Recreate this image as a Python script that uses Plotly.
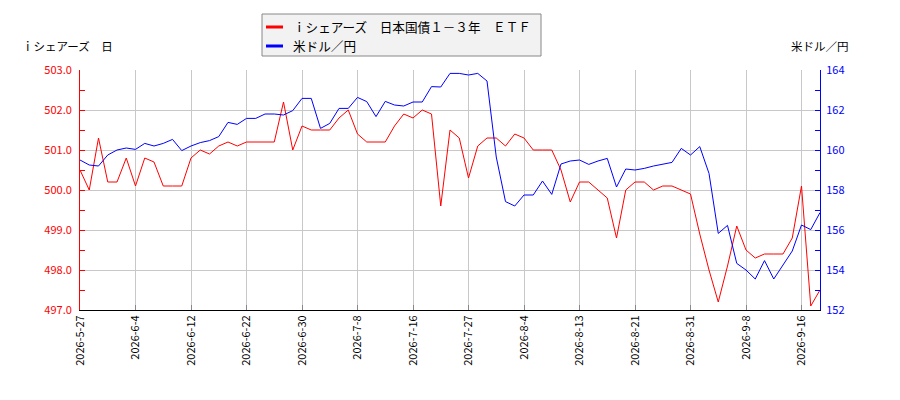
import plotly.graph_objects as go

dates = [
    "2026-5-27", "2026-5-28", "2026-5-29", "2026-6-1", "2026-6-2", "2026-6-3", "2026-6-4",
    "2026-6-5", "2026-6-8", "2026-6-9", "2026-6-10", "2026-6-11", "2026-6-12",
    "2026-6-15", "2026-6-16", "2026-6-17", "2026-6-18", "2026-6-19", "2026-6-22",
    "2026-6-23", "2026-6-24", "2026-6-25", "2026-6-26", "2026-6-29", "2026-6-30",
    "2026-7-1", "2026-7-2", "2026-7-3", "2026-7-6", "2026-7-7", "2026-7-8",
    "2026-7-9", "2026-7-10", "2026-7-13", "2026-7-14", "2026-7-15", "2026-7-16",
    "2026-7-17", "2026-7-21", "2026-7-22", "2026-7-23", "2026-7-24", "2026-7-27",
    "2026-7-28", "2026-7-29", "2026-7-30", "2026-7-31", "2026-8-3", "2026-8-4",
    "2026-8-5", "2026-8-6", "2026-8-7", "2026-8-10", "2026-8-12", "2026-8-13",
    "2026-8-14", "2026-8-17", "2026-8-18", "2026-8-19", "2026-8-20", "2026-8-21",
    "2026-8-24", "2026-8-25", "2026-8-26", "2026-8-27", "2026-8-28", "2026-8-31",
    "2026-9-1", "2026-9-2", "2026-9-3", "2026-9-4", "2026-9-7", "2026-9-8",
    "2026-9-9", "2026-9-10", "2026-9-11", "2026-9-14", "2026-9-15", "2026-9-16",
    "2026-9-17", "2026-9-18",
]

etf = [
    500.5, 500.0, 501.3, 500.2, 500.2, 500.8, 500.1,
    500.8, 500.7, 500.1, 500.1, 500.1, 500.8,
    501.0, 500.9, 501.1, 501.2, 501.1, 501.2,
    501.2, 501.2, 501.2, 502.2, 501.0, 501.6,
    501.5, 501.5, 501.5, 501.8, 502.0, 501.4,
    501.2, 501.2, 501.2, 501.6, 501.9, 501.8,
    502.0, 501.9, 499.6, 501.5, 501.3, 500.3,
    501.1, 501.3, 501.3, 501.1, 501.4, 501.3,
    501.0, 501.0, 501.0, 500.5, 499.7, 500.2,
    500.2, 500.0, 499.8, 498.8, 500.0, 500.2,
    500.2, 500.0, 500.1, 500.1, 500.0, 499.9,
    498.9, 498.0, 497.2, 498.1, 499.1, 498.5,
    498.3, 498.4, 498.4, 498.4, 498.8, 500.1,
    497.1, 497.5,
]

usdjpy = [
    159.5, 159.25, 159.2, 159.75, 160.0, 160.1, 160.03,
    160.33, 160.2, 160.33, 160.53, 159.97, 160.2,
    160.37, 160.47, 160.67, 161.38, 161.28, 161.58,
    161.58, 161.8, 161.8, 161.75, 161.97, 162.58,
    162.58, 161.08, 161.33, 162.08, 162.08, 162.63,
    162.42, 161.67, 162.43, 162.25, 162.2, 162.4,
    162.4, 163.17, 163.15, 163.83, 163.83, 163.75,
    163.83, 163.45, 159.65, 157.42, 157.2, 157.75,
    157.75, 158.45, 157.78, 159.3, 159.45, 159.5,
    159.28, 159.45, 159.58, 158.15, 159.05, 159.0,
    159.08, 159.2, 159.3, 159.38, 160.08, 159.75,
    160.17, 158.83, 155.83, 156.23, 154.33, 154.0,
    153.55, 154.47, 153.55, 154.25, 154.95, 156.25,
    156.02, 156.87,
]

tick_dates = dates[::6]

etf_name = "ｉシェアーズ　日本国債１－３年　ＥＴＦ"
fx_name = "米ドル／円"
left_title = "ｉシェアーズ　日"

FONT = "Noto Sans CJK JP"

# page offset (browser body margin) and plot box in page pixels
OFF = 8
PL, PR, PT, PB = 80, 820, 70, 310
W, H = 900, 400


def px(x):
    return (x - PL) / (PR - PL)


def py(y):
    return (PB - y) / (PB - PT)


fig = go.Figure()
fig.add_trace(go.Scatter(x=dates, y=etf, name=etf_name, mode="lines",
                         line=dict(color="#ff0000", width=1), yaxis="y"))
fig.add_trace(go.Scatter(x=dates, y=usdjpy, name=fx_name, mode="lines",
                         line=dict(color="#0000ff", width=1), yaxis="y2"))

shapes = [
    dict(type="rect", xref="paper", yref="paper",
         x0=px(262), x1=px(541), y0=py(56), y1=py(14),
         fillcolor="#f2f2f2", line=dict(color="#888888", width=1), layer="above"),
    dict(type="line", xref="paper", yref="paper",
         x0=px(266), x1=px(283), y0=py(27), y1=py(27),
         line=dict(color="#ff0000", width=3)),
    dict(type="line", xref="paper", yref="paper",
         x0=px(266), x1=px(283), y0=py(46), y1=py(46),
         line=dict(color="#0000ff", width=3)),
]

annotations = [
    dict(text=etf_name, xref="paper", yref="paper", x=px(291), y=py(27),
         xanchor="left", yanchor="middle", showarrow=False,
         font=dict(family=FONT, size=12.6, color="#000")),
    dict(text=fx_name, xref="paper", yref="paper", x=px(291), y=py(46),
         xanchor="left", yanchor="middle", showarrow=False,
         font=dict(family=FONT, size=12.6, color="#000")),
    dict(text=left_title, xref="paper", yref="paper", x=px(20), y=py(46),
         xanchor="left", yanchor="middle", showarrow=False,
         font=dict(family=FONT, size=11.5, color="#000")),
    dict(text=fx_name, xref="paper", yref="paper", x=px(851), y=py(46),
         xanchor="right", yanchor="middle", showarrow=False,
         font=dict(family=FONT, size=11.5, color="#000")),
]

fig.update_layout(
    width=W, height=H,
    margin=dict(l=PL - OFF, r=W - PR + OFF, t=PT - OFF, b=H - PB + OFF, autoexpand=False),
    paper_bgcolor="white", plot_bgcolor="white",
    font=dict(family=FONT, size=11, color="#000"),
    showlegend=False,
    xaxis=dict(type="category", range=[0, len(dates) - 1],
               tickvals=tick_dates, ticktext=tick_dates, tickangle=-90,
               showgrid=True, gridcolor="#c8c8c8", gridwidth=1,
               ticks="inside", ticklen=5, tickcolor="#888",
               showline=True, linecolor="#000", linewidth=1,
               tickfont=dict(family=FONT, size=11, color="#000"),
               zeroline=False),
    yaxis=dict(range=[497, 503], dtick=1, tick0=497, tickformat=".1f",
               showgrid=True, gridcolor="#c8c8c8", gridwidth=1,
               ticks="inside", ticklen=5, tickcolor="#ff0000",
               minor=dict(dtick=0.5, ticks="inside", ticklen=5, tickcolor="#ff0000", showgrid=False),
               showline=True, linecolor="#ff0000", linewidth=1,
               ticklabelstandoff=5,
               tickfont=dict(family=FONT, size=11, color="#ff0000"),
               zeroline=False),
    yaxis2=dict(range=[152, 164], dtick=2, tick0=152, overlaying="y", side="right",
                showgrid=False,
                ticks="inside", ticklen=5, tickcolor="#0000ff",
                minor=dict(dtick=1, ticks="inside", ticklen=5, tickcolor="#0000ff", showgrid=False),
                showline=True, linecolor="#0000ff", linewidth=1,
                ticklabelstandoff=3,
                tickfont=dict(family=FONT, size=11, color="#0000ff"),
                zeroline=False),
    shapes=shapes,
    annotations=annotations,
)

fig.write_html("out.html")
